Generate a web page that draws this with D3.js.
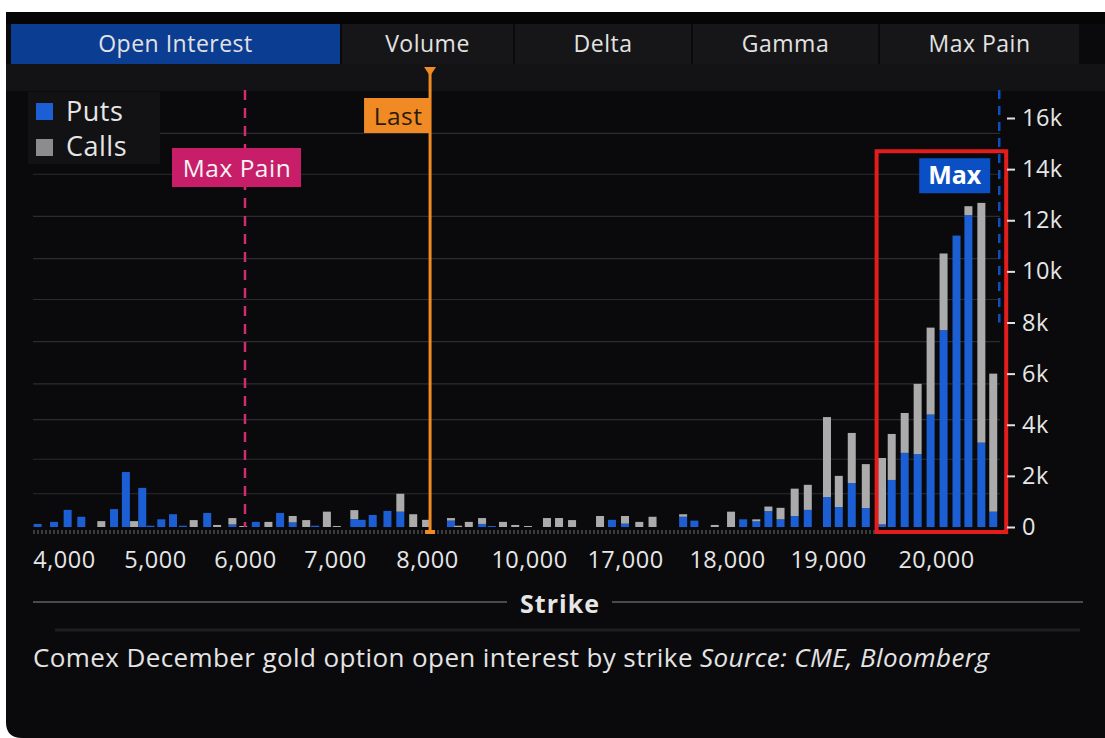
<!DOCTYPE html>
<html><head><meta charset="utf-8">
<script src="https://cdn.jsdelivr.net/npm/d3@7"></script>
<style>
html,body{margin:0;padding:0;background:#fff;}
svg{display:block;font-family:"Open Sans",sans-serif;}
</style></head><body>
<svg id="chart" width="1105" height="738"></svg>
<script>
// ---------------- DATA ----------------
const strikes = [3710,3890,4040,4190,4410,4550,4680,4770,4860,4950,
  5070,5200,5310,5430,5580,5690,5860,5980,6120,6260,
  6390,6530,6680,6780,6910,7020,7210,7290,7410,7570,
  7710,7850,7990,8470,8610,8820,9080,9270,9490,9730,
  9980,11310,12190,13140,15180,16050,17000,17140,17270,17570,
  17680,17880,18040,18160,18290,18410,18530,18670,18800,18990,
  19100,19220,19350,19500,19590,19710,19830,19950,20070,20190,
  20300,20420,20530];
const puts = [120,200,670,400,0,700,2150,0,1530,50,
  300,500,50,0,550,0,100,0,200,0,
  550,180,0,50,0,0,310,280,470,630,
  600,0,0,250,0,0,120,40,0,0,
  0,0,0,0,0,280,130,0,0,400,
  250,0,0,300,220,620,300,430,670,1170,
  780,1720,740,100,1840,2900,2850,4400,7700,11400,
  12200,3300,600];
const calls = [0,0,0,0,230,0,0,230,0,0,
  0,0,0,270,0,80,250,40,0,200,
  0,250,270,0,600,40,350,0,0,0,
  700,500,280,100,50,200,230,0,200,80,
  40,350,350,270,430,0,300,200,400,100,
  0,80,600,0,80,180,450,1070,980,3130,
  1220,1960,1720,2600,1800,1560,2750,3400,3000,0,
  350,9380,5400];
const tickStrikes = [4000,5000,6000,7000,8000,10000,17000,18000,19000,20000];
const yTicks = [0,2000,4000,6000,8000,10000,12000,14000,16000];
const gridValues = [1300,2650,4200,5600,7250,8900,10500,12150,13800,15400];
const tabs = ["Open Interest","Volume","Delta","Gamma","Max Pain"];
const seriesNames = ["Puts","Calls"];
const maxPain = 6000;
const lastPrice = 8060;
const maxRange = [19450, 20650];
const maxTop = 14700;
const maxStrike = 20530;
const caption = "Comex December gold option open interest by strike ";
const source = "Source: CME, Bloomberg";

// ---------------- LAYOUT ----------------
const W = 1105, H = 738;
const plotLeft = 33, plotRight = 1003, plotTop = 118, plotBottom = 527;
const axisStops = [64,155,245,335,427,529,625,727,828,936];
const tabEdges = [11,341,514,692,879,1080];
const colors = {puts:"#1c5fd4", calls:"#ababab", pain:"#d42a72", last:"#f08a24", max:"#0b4fc4", red:"#e31c1c"};
const LS = "0.5px";

const svg = d3.select("#chart");
// card
svg.append("path")
  .attr("d", `M6,12 H${W} V${H} H22 Q6,${H} 6,${H-16} Z`)
  .attr("fill", "#0a0a0c");
svg.append("rect").attr("x",6).attr("y",12).attr("width",W-6).attr("height",12).attr("fill","#050506");

// tabs
const tabG = svg.append("g");
tabs.forEach((t,i) => {
  const x0 = tabEdges[i] + (i ? 1 : 0), x1 = tabEdges[i+1] - 1;
  tabG.append("rect").attr("x", x0).attr("y", 24).attr("width", x1 - x0).attr("height", 40)
    .attr("fill", i === 0 ? "#0b3d92" : "#161618");
  tabG.append("text").attr("x", (x0 + x1)/2).attr("y", 52).attr("text-anchor","middle")
    .attr("font-size", 23).attr("letter-spacing", LS).attr("fill", "#e2e2e2").text(t);
});
// strip under tabs
svg.append("rect").attr("x",6).attr("y",64).attr("width",W-6).attr("height",27).attr("fill","#131315");

// scales
const x = d3.scaleLinear().domain(tickStrikes).range(axisStops);
const y = d3.scaleLinear().domain([0,16000]).range([plotBottom, plotTop]);
const barW = 8;

// gridlines
svg.append("g").selectAll("line").data(gridValues).join("line")
  .attr("x1", plotLeft).attr("x2", plotRight - 3)
  .attr("y1", d => y(d)).attr("y2", d => y(d))
  .attr("stroke", "#2c2c2e").attr("stroke-width", 1.2);

// legend
const lg = svg.append("g");
lg.append("rect").attr("x",28).attr("y",92).attr("width",132).attr("height",72).attr("fill","#121214");
seriesNames.forEach((n,i) => {
  lg.append("rect").attr("x",36).attr("y",103 + i*36).attr("width",17).attr("height",17)
    .attr("fill", i === 0 ? colors.puts : "#8c8c8c");
  lg.append("text").attr("x",66).attr("y",121 + i*35).attr("font-size",27).attr("letter-spacing",LS)
    .attr("fill","#e6e6e6").text(n);
});

// bottom category strip
svg.append("line").attr("x1",plotLeft).attr("x2",plotRight-3).attr("y1",plotBottom+5).attr("y2",plotBottom+5)
  .attr("stroke","#3b3b3d").attr("stroke-width",4).attr("stroke-dasharray","2,2");

// stacked bars
const table = strikes.map((s,i) => ({strike:s, Puts:puts[i], Calls:calls[i]}));
const stacked = d3.stack().keys(seriesNames)(table);
svg.append("g").selectAll("g").data(stacked).join("g")
  .attr("fill", d => d.key === "Puts" ? colors.puts : colors.calls)
  .selectAll("rect").data(d => d.filter(p => p[1] > p[0])).join("rect")
  .attr("x", d => x(d.data.strike) - barW/2)
  .attr("width", barW)
  .attr("y", d => y(d[1]))
  .attr("height", d => Math.max(1, y(d[0]) - y(d[1])));

// Max Pain line + label
const xp = x(maxPain);
svg.append("line").attr("x1",xp).attr("x2",xp).attr("y1",90).attr("y2",plotBottom)
  .attr("stroke",colors.pain).attr("stroke-width",2.5).attr("stroke-dasharray","10,8");
svg.append("rect").attr("x",xp-73).attr("y",148).attr("width",129).attr("height",39).attr("fill","#c81e6a");
svg.append("text").attr("x",xp-8).attr("y",177).attr("text-anchor","middle").attr("font-size",24.5)
  .attr("letter-spacing",LS).attr("fill","#f4f4f4").text("Max Pain");

// Last line + label
const xl = x(lastPrice);
svg.append("line").attr("x1",xl).attr("x2",xl).attr("y1",72).attr("y2",plotBottom+3)
  .attr("stroke",colors.last).attr("stroke-width",3);
svg.append("path").attr("d",`M${xl-6},67 L${xl+6},67 L${xl},76 Z`).attr("fill",colors.last);
svg.append("rect").attr("x",xl-66).attr("y",98).attr("width",66).attr("height",35).attr("fill",colors.last);
svg.append("text").attr("x",xl-32).attr("y",125).attr("text-anchor","middle").attr("font-size",24.5)
  .attr("letter-spacing",LS).attr("fill","#2b1a08").text("Last");
svg.append("rect").attr("x",xl-5).attr("y",plotBottom+3).attr("width",10).attr("height",4).attr("fill",colors.last);

// Max highlight
const xm = x(maxStrike) + 6;
svg.append("line").attr("x1",xm).attr("x2",xm).attr("y1",90).attr("y2",y(8000))
  .attr("stroke",colors.max).attr("stroke-width",2.5).attr("stroke-dasharray","9,7");
const bx0 = x(maxRange[0]), bx1 = x(maxRange[1]);
svg.append("rect").attr("x",bx0).attr("y",y(maxTop)).attr("width",bx1-bx0).attr("height",plotBottom+5-y(maxTop))
  .attr("fill","none").attr("stroke",colors.red).attr("stroke-width",4);
svg.append("rect").attr("x",bx1-87).attr("y",y(maxTop)+7).attr("width",71).attr("height",35).attr("fill",colors.max);
svg.append("text").attr("x",bx1-51.5).attr("y",y(maxTop)+33).attr("text-anchor","middle").attr("font-size",25)
  .attr("font-weight","bold").attr("fill","#fff").text("Max");

// y axis (right)
const yAxis = svg.append("g").attr("transform",`translate(${plotRight+4},0)`)
  .call(d3.axisRight(y).tickValues(yTicks).tickSize(8).tickPadding(7)
    .tickFormat(d => d === 0 ? "0" : (d/1000) + "k"));
yAxis.select(".domain").remove();
yAxis.selectAll("line").attr("stroke","#e0e0e0").attr("stroke-width",2);
yAxis.selectAll("text").attr("fill","#e6e6e6").attr("font-size",23.5).attr("letter-spacing",LS)
  .attr("font-family","'Open Sans',sans-serif");

// x axis
const xAxis = svg.append("g").attr("transform",`translate(0,${plotBottom+16})`)
  .call(d3.axisBottom(x).tickValues(tickStrikes).tickSize(0).tickPadding(8).tickFormat(d3.format(",")));
xAxis.select(".domain").remove();
xAxis.selectAll("text").attr("fill","#e6e6e6").attr("font-size",23.5).attr("letter-spacing",LS)
  .attr("font-family","'Open Sans',sans-serif");

// Strike title with rules
svg.append("line").attr("x1",33).attr("x2",507).attr("y1",602).attr("y2",602).attr("stroke","#4a4a4c").attr("stroke-width",2);
svg.append("line").attr("x1",612).attr("x2",1083).attr("y1",602).attr("y2",602).attr("stroke","#4a4a4c").attr("stroke-width",2);
svg.append("text").attr("x",560).attr("y",613).attr("text-anchor","middle").attr("font-size",25)
  .attr("letter-spacing","1px").attr("font-weight","bold").attr("fill","#e6e6e6").text("Strike");
svg.append("line").attr("x1",55).attr("x2",1080).attr("y1",630).attr("y2",630).attr("stroke","#1e1e20").attr("stroke-width",3);

// caption
const cap = svg.append("text").attr("x",33).attr("y",667).attr("font-size",26).attr("letter-spacing","0.4px").attr("fill","#e4e4e4");
cap.append("tspan").text(caption);
cap.append("tspan").attr("font-style","italic").text(source);
</script>
</body></html>
